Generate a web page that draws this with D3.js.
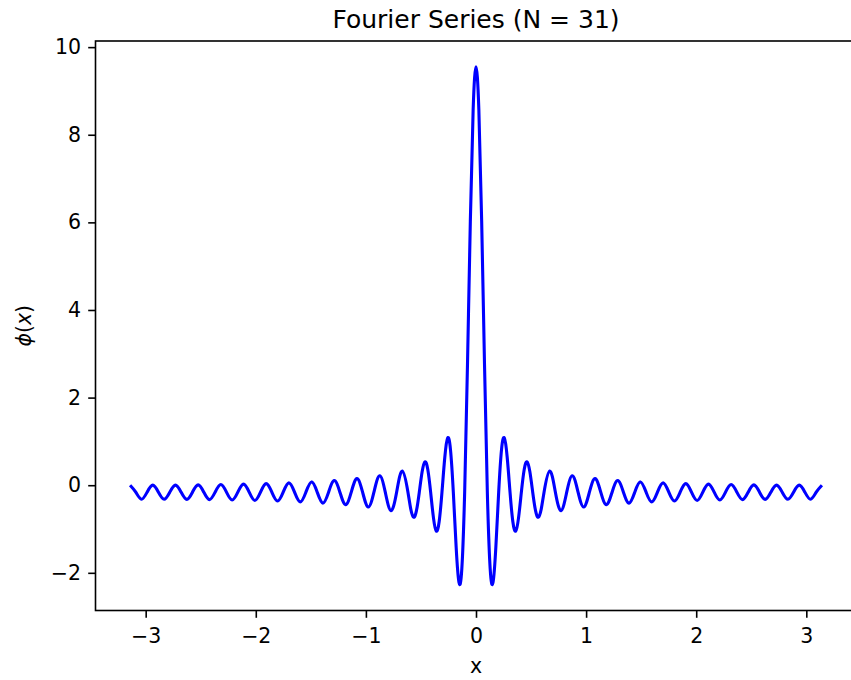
<!DOCTYPE html>
<html>
<head>
<meta charset="utf-8">
<script src="https://cdn.jsdelivr.net/npm/d3@7"></script>
<style>
  body { margin: 0; background: #ffffff; }
  svg { display: block; font-family: "DejaVu Sans", sans-serif; }
</style>
</head>
<body>
<div id="chart"></div>
<script>
// Sample points (x, phi(x)), from -pi to pi
const xValues = [
  -3.1416, -3.0901, -3.0386, -2.9871, -2.9356, -2.8841, -2.8326, -2.7811, -2.7296, -2.6781,
  -2.6266, -2.5751, -2.5236, -2.4721, -2.4206, -2.3691, -2.3176, -2.2661, -2.2146, -2.1631,
  -2.1116, -2.0601, -2.0086, -1.9571, -1.9056, -1.8541, -1.8026, -1.7510, -1.6995, -1.6480,
  -1.5965, -1.5450, -1.4935, -1.4420, -1.3905, -1.3390, -1.2875, -1.2360, -1.1845, -1.1330,
  -1.0815, -1.0300, -0.9785, -0.9270, -0.8755, -0.8240, -0.7725, -0.7210, -0.6695,
  -0.6180, -0.5923, -0.5665, -0.5408, -0.5150, -0.4893, -0.4635, -0.4378, -0.4120, -0.3863,
  -0.3605, -0.3348, -0.3090, -0.2833, -0.2575, -0.2318, -0.2060, -0.1803, -0.1545, -0.1288,
  -0.1030, -0.0773, -0.0515, -0.0258,
  0,
  0.0258, 0.0515, 0.0773, 0.1030, 0.1288, 0.1545, 0.1803, 0.2060, 0.2318, 0.2575,
  0.2833, 0.3090, 0.3348, 0.3605, 0.3863, 0.4120, 0.4378, 0.4635, 0.4893, 0.5150,
  0.5408, 0.5665, 0.5923, 0.6180,
  0.6695, 0.7210, 0.7725, 0.8240, 0.8755, 0.9270, 0.9785, 1.0300, 1.0815, 1.1330,
  1.1845, 1.2360, 1.2875, 1.3390, 1.3905, 1.4420, 1.4935, 1.5450, 1.5965, 1.6480,
  1.6995, 1.7510, 1.8026, 1.8541, 1.9056, 1.9571, 2.0086, 2.0601, 2.1116, 2.1631,
  2.2146, 2.2661, 2.3176, 2.3691, 2.4206, 2.4721, 2.5236, 2.5751, 2.6266, 2.6781,
  2.7296, 2.7811, 2.8326, 2.8841, 2.9356, 2.9871, 3.0386, 3.0901, 3.1416
];

const phiValues = [
  0.000, -0.159, -0.319, -0.159, 0.001, -0.159, -0.320, -0.159, 0.003, -0.159,
  -0.324, -0.159, 0.008, -0.159, -0.329, -0.159, 0.015, -0.159, -0.337, -0.159,
  0.024, -0.159, -0.348, -0.159, 0.036, -0.159, -0.362, -0.159, 0.053, -0.159,
  -0.381, -0.159, 0.075, -0.159, -0.408, -0.159, 0.106, -0.159, -0.444, -0.159,
  0.150, -0.159, -0.498, -0.159, 0.216, -0.159, -0.582, -0.159, 0.325,
  -0.159, -0.545, -0.729, -0.581, -0.159, 0.306, 0.534, 0.359, -0.159, -0.746,
  -1.047, -0.835, -0.159, 0.638, 1.080, 0.814, -0.159, -1.410, -2.221, -1.909,
  -0.159, 2.755, 6.022, 8.582,
  9.549,
  8.582, 6.022, 2.755, -0.159, -1.909, -2.221, -1.410, -0.159, 0.814, 1.080,
  0.638, -0.159, -0.835, -1.047, -0.746, -0.159, 0.359, 0.534, 0.306, -0.159,
  -0.581, -0.729, -0.545, -0.159,
  0.325, -0.159, -0.582, -0.159, 0.216, -0.159, -0.498, -0.159, 0.150, -0.159,
  -0.444, -0.159, 0.106, -0.159, -0.408, -0.159, 0.075, -0.159, -0.381, -0.159,
  0.053, -0.159, -0.362, -0.159, 0.036, -0.159, -0.348, -0.159, 0.024, -0.159,
  -0.337, -0.159, 0.015, -0.159, -0.329, -0.159, 0.008, -0.159, -0.324, -0.159,
  0.003, -0.159, -0.320, -0.159, 0.001, -0.159, -0.319, -0.159, 0.000
];

const xTicks = [-3, -2, -1, 0, 1, 2, 3];
const yTicks = [-2, 0, 2, 4, 6, 8, 10];
const yLimits = [-2.86, 10.14];
const chartTitle = "Fourier Series (N = 31)";

const width = 851;
const height = 680;

// Plot box (right edge runs a little past the picture)
const plot = { left: 95.5, top: 41, right: 856.5, bottom: 610.5 };
const fontSize = 20.5;

const svg = d3.select("#chart")
    .append("svg")
    .attr("width", width)
    .attr("height", height)
    .style("background-color", "#ffffff");

// x domain gets 5% padding on each side like matplotlib
const xExtent = d3.extent(xValues);
const xPad = (xExtent[1] - xExtent[0]) * 0.05;
const x = d3.scaleLinear()
    .domain([xExtent[0] - xPad, xExtent[1] + xPad])
    .range([plot.left, plot.right]);

const y = d3.scaleLinear()
    .domain(yLimits)
    .range([plot.bottom, plot.top]);

const points = xValues.map((v, i) => ({ x: v, y: phiValues[i] }));

// The curve
const line = d3.line()
    .x(d => x(d.x))
    .y(d => y(d.y))
    .curve(d3.curveNatural);

svg.append("path")
    .datum(points)
    .attr("d", line)
    .attr("fill", "none")
    .attr("stroke", "#0000ff")
    .attr("stroke-width", 3.1)
    .attr("stroke-linejoin", "round");

// Axes
const xAxis = svg.append("g")
    .attr("transform", `translate(0,${plot.bottom})`)
    .call(d3.axisBottom(x).tickValues(xTicks).tickSize(7.3).tickPadding(11).tickFormat(d3.format("d")));

const yAxis = svg.append("g")
    .attr("transform", `translate(${plot.left},0)`)
    .call(d3.axisLeft(y).tickValues(yTicks).tickSize(7.3).tickPadding(7.2).tickFormat(d3.format("d")));

[xAxis, yAxis].forEach(g => {
    g.select(".domain").remove();
    g.selectAll(".tick line").attr("stroke", "#000").attr("stroke-width", 1.6);
    g.selectAll(".tick text")
        .attr("fill", "#000")
        .style("font-size", fontSize + "px")
        .style("font-family", "DejaVu Sans, sans-serif");
});

// Frame around the plot area
svg.append("rect")
    .attr("x", plot.left)
    .attr("y", plot.top)
    .attr("width", plot.right - plot.left)
    .attr("height", plot.bottom - plot.top)
    .attr("fill", "none")
    .attr("stroke", "#000")
    .attr("stroke-width", 1.6);

const midX = (plot.left + plot.right) / 2;

// Title
svg.append("text")
    .attr("x", midX)
    .attr("y", 28)
    .attr("text-anchor", "middle")
    .style("font-size", "25px")
    .text(chartTitle);

// x label
svg.append("text")
    .attr("x", midX)
    .attr("y", 673)
    .attr("text-anchor", "middle")
    .style("font-size", fontSize + "px")
    .text("x");

// y label, phi(x) with italic symbols
const yLabel = svg.append("text")
    .attr("transform", `translate(31,${(plot.top + plot.bottom) / 2}) rotate(-90)`)
    .attr("text-anchor", "middle")
    .style("font-size", fontSize + "px");
yLabel.append("tspan").style("font-style", "italic").text("\u03D5");
yLabel.append("tspan").text("(");
yLabel.append("tspan").style("font-style", "italic").text("x");
yLabel.append("tspan").text(")");
</script>
</body>
</html>
